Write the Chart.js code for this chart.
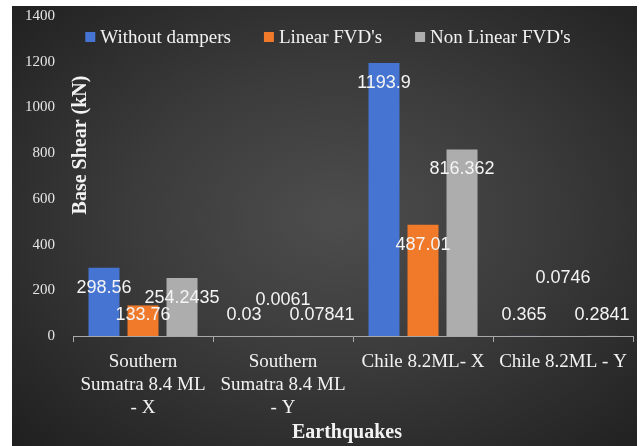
<!DOCTYPE html>
<html>
<head>
<meta charset="utf-8">
<script src="https://cdn.jsdelivr.net/npm/chart.js@4.4.1/dist/chart.umd.min.js"></script>
<style>
    html, body {
        margin: 0;
        padding: 0;
        background: #ffffff;
    }
    #frame {
        position: absolute;
        left: 12px;
        top: 6px;
        width: 625px;
        height: 440px;
        background: radial-gradient(ellipse at 52% 48%, #4d4d4d 0%, #3b3b3b 45%, #1f1f1f 100%);
    }
</style>
</head>
<body>
<div id="frame">
    <canvas id="shearChart" width="625" height="440"></canvas>
</div>
<script>
// Data
const categories = [
    ['Southern', 'Sumatra 8.4 ML', '- X'],
    ['Southern', 'Sumatra 8.4 ML', '- Y'],
    'Chile 8.2ML- X',
    'Chile 8.2ML - Y'
];
const seriesNames = ['Without dampers', "Linear FVD's", "Non Linear FVD's"];
const withoutDampers = [298.56, 0.03, 1193.9, 0.365];
const linearFVD = [133.76, 0.0061, 487.01, 0.0746];
const nonLinearFVD = [254.2435, 0.07841, 816.362, 0.2841];
const yTicks = [0, 200, 400, 600, 800, 1000, 1200, 1400];

const seriesColors = ['#4674d2', '#f07a2a', '#adadad'];
// extra lift (px) for labels that were moved apart in the original
const labelLift = [
    [0, 0, 0, 0],
    [0, 15, 0, 37],
    [0, 0, 0, 0]
];

const serif = "'Liberation Serif', 'Times New Roman', serif";
const sans = "'Liberation Sans', Arial, sans-serif";

const valueLabels = {
    id: 'valueLabels',
    afterDatasetsDraw(chart) {
        const ctx = chart.ctx;
        ctx.save();
        ctx.font = '18px ' + sans;
        ctx.fillStyle = '#f4f4f4';
        ctx.textAlign = 'center';
        ctx.textBaseline = 'middle';
        chart.data.datasets.forEach((ds, di) => {
            const meta = chart.getDatasetMeta(di);
            meta.data.forEach((bar, i) => {
                const y = Math.min(bar.y + 20, bar.base - 21) - labelLift[di][i];
                ctx.fillText(String(ds.data[i]), bar.x, y);
            });
        });
        ctx.restore();
    }
};

const overlay = {
    id: 'overlay',
    afterDraw(chart) {
        const ctx = chart.ctx;
        ctx.save();
        ctx.fillStyle = '#f2f2f2';

        // axis titles
        ctx.font = 'bold 20px ' + serif;
        ctx.textAlign = 'center';
        ctx.textBaseline = 'middle';
        ctx.fillText('Earthquakes', 335, 427);
        ctx.save();
        ctx.translate(69, 139);
        ctx.rotate(-Math.PI / 2);
        ctx.fillText('Base Shear (kN)', 0, 0);
        ctx.restore();

        // legend inside the plot area
        ctx.font = '19px ' + serif;
        ctx.textAlign = 'left';
        const box = 10, gap = 5, spacing = 33;
        const items = chart.data.datasets.map(ds => ({
            text: ds.label,
            color: ds.backgroundColor,
            w: box + gap + ctx.measureText(ds.label).width
        }));
        const total = items.reduce((s, it) => s + it.w, 0) + spacing * (items.length - 1);
        let x = 316 - total / 2;
        const y = 31;
        items.forEach(it => {
            ctx.fillStyle = it.color;
            ctx.fillRect(x, y - box / 2, box, box);
            ctx.fillStyle = '#f2f2f2';
            ctx.fillText(it.text, x + box + gap, y + 1);
            x += it.w + spacing;
        });
        ctx.restore();
    }
};

const seriesData = [withoutDampers, linearFVD, nonLinearFVD];

new Chart(document.getElementById('shearChart'), {
    type: 'bar',
    data: {
        labels: categories,
        datasets: seriesNames.map((name, i) => ({
            label: name,
            data: seriesData[i],
            backgroundColor: seriesColors[i],
            borderWidth: 0,
            categoryPercentage: 0.836,
            barPercentage: 0.795
        }))
    },
    options: {
        responsive: false,
        animation: false,
        devicePixelRatio: 1,
        layout: {
            padding: { left: 12, right: 4, top: 10, bottom: 0 }
        },
        plugins: {
            legend: { display: false },
            tooltip: { enabled: false }
        },
        scales: {
            x: {
                afterFit: scale => { scale.height = 110; },
                border: { display: true, color: '#a8a8a8', width: 1 },
                grid: {
                    display: true,
                    drawOnChartArea: false,
                    drawTicks: true,
                    tickLength: 6,
                    color: '#a8a8a8'
                },
                ticks: {
                    color: '#f2f2f2',
                    padding: 9,
                    maxRotation: 0,
                    autoSkip: false,
                    font: { family: serif, size: 19, lineHeight: 1.2 }
                }
            },
            y: {
                min: 0,
                max: 1400,
                afterFit: scale => {
                    scale.width = 49;
                    // the tick padding is horizontal only here
                    scale.paddingTop = 8;
                    scale.paddingBottom = 8;
                },
                afterBuildTicks: scale => {
                    scale.ticks = yTicks.map(v => ({ value: v }));
                },
                border: { display: false },
                grid: { display: false, drawTicks: false },
                ticks: {
                    color: '#e6e6e6',
                    padding: 18,
                    callback: v => String(v),
                    font: { family: serif, size: 15 }
                }
            }
        }
    },
    plugins: [valueLabels, overlay]
});
</script>
</body>
</html>
